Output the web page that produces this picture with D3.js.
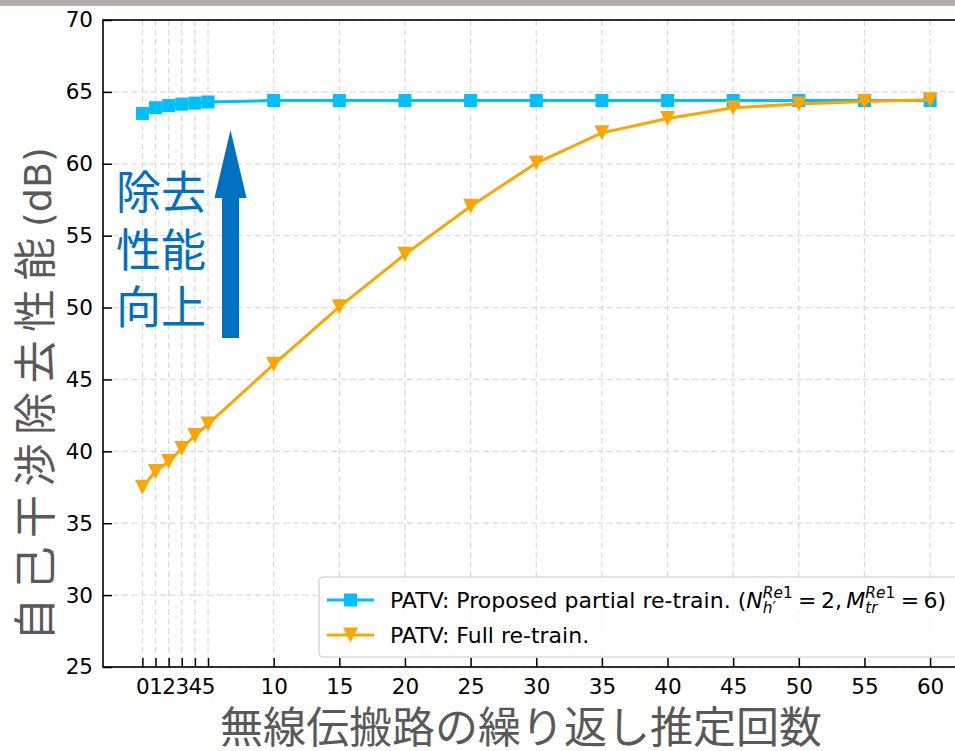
<!DOCTYPE html>
<html>
<head>
<meta charset="utf-8">
<script src="https://cdn.jsdelivr.net/npm/d3@7"></script>
<style>
  html, body { margin: 0; padding: 0; background: #fff; }
  svg { display: block; }
</style>
</head>
<body>
<div id="chart"></div>
<script>
// Iteration counts of the channel estimation loop
const iterations = [0, 1, 2, 3, 4, 5, 10, 15, 20, 25, 30, 35, 40, 45, 50, 55, 60];
// Self-interference cancellation (dB): proposed partial re-training
const partialRetrain = [63.5, 63.9, 64.05, 64.15, 64.22, 64.3, 64.4, 64.4, 64.4, 64.4, 64.4, 64.4, 64.4, 64.4, 64.4, 64.4, 64.4];
// Self-interference cancellation (dB): full re-training
const fullRetrain = [37.5, 38.6, 39.3, 40.2, 41.1, 41.9, 46.05, 50.05, 53.7, 57.05, 60.05, 62.15, 63.15, 63.9, 64.15, 64.33, 64.45];
const xTicks = [0, 1, 2, 3, 4, 5, 10, 15, 20, 25, 30, 35, 40, 45, 50, 55, 60];
const yTicks = [25, 30, 35, 40, 45, 50, 55, 60, 65, 70];
const seriesNames = ["PATV: Proposed partial re-train. ", "PATV: Full re-train."];
const xTitle = "無線伝搬路の繰り返し推定回数";
const yTitleMain = "自己干渉除去性能";
const yTitleUnit = "(dB)";
const noteLines = ["除去", "性能", "向上"];

const W = 955, H = 751;
const plot = { left: 103, right: 969.5, top: 20, bottom: 667 };
const blue = "#00bfff", orange = "#ffa500", noteBlue = "#0070c0";

const svg = d3.select("#chart").append("svg")
  .attr("width", W).attr("height", H)
  .attr("viewBox", `0 0 ${W} ${H}`);

// thin grey band along the top edge
svg.append("rect").attr("x", 0).attr("y", 0).attr("width", W).attr("height", 6)
  .attr("fill", "#b1acaa");

const x = d3.scaleLinear().domain([-3, 63]).range([plot.left, plot.right]);
const y = d3.scaleLinear().domain([25, 70]).range([plot.bottom, plot.top]);

// dashed grid
const grid = svg.append("g").attr("stroke", "#dcdcdc").attr("stroke-width", 1.3)
  .attr("stroke-dasharray", "6,3.5");
grid.selectAll("line.gx").data(xTicks).join("line")
  .attr("x1", d => x(d)).attr("x2", d => x(d))
  .attr("y1", plot.top).attr("y2", plot.bottom);
grid.selectAll("line.gy").data(yTicks).join("line")
  .attr("y1", d => y(d)).attr("y2", d => y(d))
  .attr("x1", plot.left).attr("x2", plot.right);

// axes with inward ticks
const xAxis = d3.axisBottom(x).tickValues(xTicks).tickSizeInner(-9).tickSizeOuter(0).tickPadding(12);
const yAxis = d3.axisLeft(y).tickValues(yTicks).tickSizeInner(-9).tickSizeOuter(0).tickPadding(10);

const gx = svg.append("g").attr("transform", `translate(0,${plot.bottom})`).call(xAxis);
const gy = svg.append("g").attr("transform", `translate(${plot.left},0)`).call(yAxis);
[gx, gy].forEach(g => {
  g.select(".domain").remove();
  g.selectAll(".tick line").attr("stroke", "#000").attr("stroke-width", 1.5);
  g.selectAll(".tick text").attr("fill", "#000")
    .style("font-family", "'DejaVu Sans', sans-serif").style("font-size", "21.5px");
});
gx.selectAll(".tick text").attr("dy", "0.71em");

// frame
svg.append("rect").attr("x", plot.left).attr("y", plot.top)
  .attr("width", plot.right - plot.left).attr("height", plot.bottom - plot.top)
  .attr("fill", "none").attr("stroke", "#000").attr("stroke-width", 1.6);

// series
const line = d3.line().x(d => x(d[0])).y(d => y(d[1]));
const fullPts = iterations.map((it, i) => [it, fullRetrain[i]]);
const partPts = iterations.map((it, i) => [it, partialRetrain[i]]);

const sq = 13, tri = 15;
const triPath = s => `M${-s / 2},${-s / 2}L${s / 2},${-s / 2}L0,${s / 2}Z`;

svg.append("path").datum(partPts).attr("d", line)
  .attr("fill", "none").attr("stroke", blue).attr("stroke-width", 3);
svg.append("g").selectAll("rect").data(partPts).join("rect")
  .attr("x", d => x(d[0]) - sq / 2).attr("y", d => y(d[1]) - sq / 2)
  .attr("width", sq).attr("height", sq).attr("fill", blue);

svg.append("path").datum(fullPts).attr("d", line)
  .attr("fill", "none").attr("stroke", orange).attr("stroke-width", 3);
svg.append("g").selectAll("path").data(fullPts).join("path")
  .attr("transform", d => `translate(${x(d[0])},${y(d[1])})`)
  .attr("d", triPath(tri)).attr("fill", orange);

// improvement annotation: stacked text and upward arrow
const note = svg.append("g").attr("fill", noteBlue)
  .style("font-family", "'Noto Sans CJK JP', sans-serif").style("font-size", "45px");
noteLines.forEach((t, i) => {
  note.append("text").attr("x", 116).attr("y", 209 + i * 57.5).text(t);
});
const ax = 230.5;
svg.append("path")
  .attr("d", `M${ax},130 L${ax + 16},198 L${ax + 8.5},198 L${ax + 8.5},338 L${ax - 8.5},338 L${ax - 8.5},198 L${ax - 16},198 Z`)
  .attr("fill", noteBlue);

// axis titles
svg.append("text").attr("x", 521).attr("y", 743).attr("text-anchor", "middle")
  .attr("fill", "#595959")
  .style("font-family", "'Noto Sans CJK JP', sans-serif").style("font-size", "43px")
  .text(xTitle);

const yt = svg.append("text").attr("transform", "translate(51,641) rotate(-90)")
  .attr("fill", "#595959")
  .style("font-family", "'Noto Sans CJK JP', sans-serif").style("font-size", "43px");
yt.append("tspan").style("letter-spacing", "8.5px").text(yTitleMain);
yt.append("tspan").attr("dx", 2).style("font-family", "'DejaVu Sans', sans-serif").style("font-size", "38px")
  .text(yTitleUnit);

// legend
const lg = svg.append("g");
lg.append("rect").attr("x", 319).attr("y", 577).attr("width", 640).attr("height", 80)
  .attr("rx", 4).attr("fill", "#fff").attr("fill-opacity", 0.85)
  .attr("stroke", "#cccccc").attr("stroke-width", 1.2);

const rows = [600, 635];
const fs = 22;
const legendFont = "'DejaVu Sans', sans-serif";
// row 1
lg.append("line").attr("x1", 327).attr("x2", 374).attr("y1", rows[0]).attr("y2", rows[0])
  .attr("stroke", blue).attr("stroke-width", 3);
lg.append("rect").attr("x", 350.5 - sq / 2).attr("y", rows[0] - sq / 2)
  .attr("width", sq).attr("height", sq).attr("fill", blue);
// row 2
lg.append("line").attr("x1", 327).attr("x2", 374).attr("y1", rows[1]).attr("y2", rows[1])
  .attr("stroke", orange).attr("stroke-width", 3);
lg.append("path").attr("transform", `translate(350.5,${rows[1]})`).attr("d", triPath(tri))
  .attr("fill", orange);

function addText(xp, yp, t, size, italic) {
  const el = lg.append("text").attr("x", xp).attr("y", yp).attr("fill", "#000")
    .style("font-family", legendFont).style("font-size", size + "px")
    .style("font-style", italic ? "italic" : "normal")
    .style("white-space", "pre").attr("xml:space", "preserve").text(t);
  return el.node().getComputedTextLength();
}

const base0 = rows[0] + 7.5, base1 = rows[1] + 7.5;
let cx = 390;
cx += addText(cx, base0, seriesNames[0], fs, false);
// parameter note with sub/superscripts
const small = fs * 0.7;
const parts = [
  { t: "(" },
  { t: "N", it: true },
  { sup: ["Re", "1"], sub: "h′" },
  { t: "\u2009=\u20092,\u2009" },
  { t: "M", it: true },
  { sup: ["Re", "1"], sub: "tr" },
  { t: "\u2009=\u20096)" }
];
parts.forEach(p => {
  if (p.t !== undefined) {
    cx += addText(cx, base0, p.t, fs, p.it);
  } else {
    let w1 = addText(cx, base0 - 9.5, p.sup[0], small, true);
    w1 += addText(cx + w1, base0 - 9.5, p.sup[1], small, false);
    const w2 = addText(cx, base0 + 5, p.sub, small, true);
    cx += Math.max(w1, w2) + 1;
  }
});
addText(390, base1, seriesNames[1], fs, false);
</script>
</body>
</html>
